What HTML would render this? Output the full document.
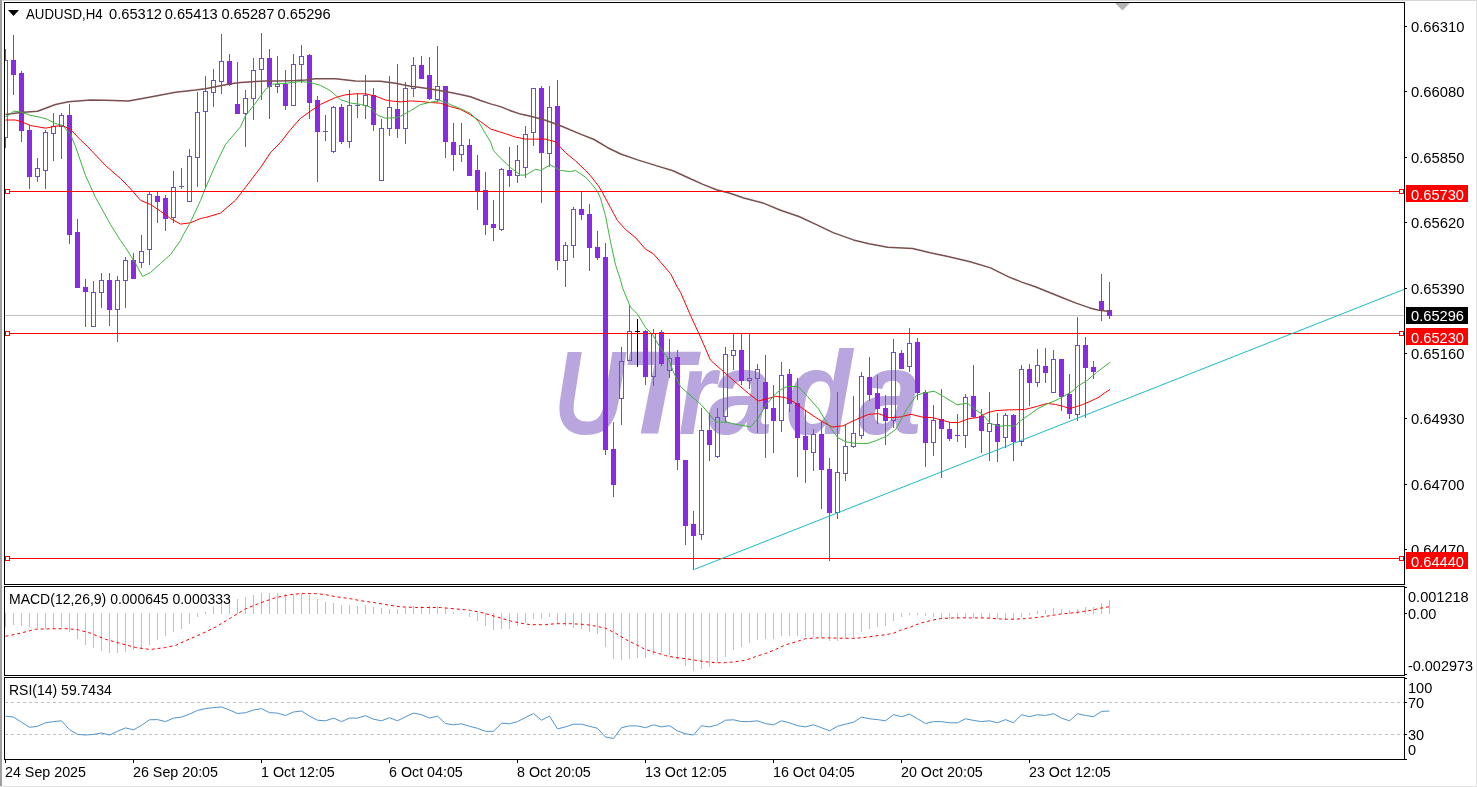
<!DOCTYPE html><html><head><meta charset="utf-8"><title>AUDUSD,H4</title><style>html,body{margin:0;padding:0;background:#fff;overflow:hidden}svg{display:block}text{font-family:'Liberation Sans', Arial, sans-serif;font-size:14px}</style></head><body>
<svg width="1477" height="787" viewBox="0 0 1477 787">
<rect width="1477" height="787" fill="#fff"/>
<rect x="0" y="0" width="2" height="787" fill="#a0a0a0"/>
<rect x="2" y="0" width="1475" height="1" fill="#d6d6d6"/>
<rect x="0" y="786" width="1477" height="1" fill="#e2e2e2"/>
<rect x="1476" y="0" width="1" height="787" fill="#e2e2e2"/>
<defs><clipPath id="cm"><rect x="5" y="3" width="1399" height="581"/></clipPath></defs>
<g clip-path="url(#cm)">
<text y="434" style="font-family:'Liberation Sans',sans-serif;font-style:italic;font-weight:bold;font-size:118px;fill:#b9a6de"><tspan x="553.7" textLength="70.7" lengthAdjust="spacingAndGlyphs">U</tspan><tspan x="619" textLength="73.5" lengthAdjust="spacingAndGlyphs">T</tspan><tspan x="678.4" textLength="37.3" lengthAdjust="spacingAndGlyphs">r</tspan><tspan x="708" textLength="64.5" lengthAdjust="spacingAndGlyphs">a</tspan><tspan x="785.2" textLength="67" lengthAdjust="spacingAndGlyphs">d</tspan><tspan x="858" textLength="63.4" lengthAdjust="spacingAndGlyphs">a</tspan></text>
<rect x="5" y="315" width="1399" height="1" fill="#c0c0c0" shape-rendering="crispEdges"/>
<g shape-rendering="crispEdges">
<rect x="5" y="49" width="1" height="11" fill="#7250b4"/>
<rect x="5" y="138" width="1" height="10" fill="#7250b4"/>
<rect x="3.5" y="60.5" width="4" height="77" fill="none" stroke="#7250b4" stroke-width="1"/>
<rect x="13" y="35" width="1" height="60" fill="#7250b4"/>
<rect x="11" y="60" width="5" height="15" fill="#8a2be2"/>
<rect x="21" y="71" width="1" height="71" fill="#7250b4"/>
<rect x="19" y="73" width="5" height="58" fill="#8a2be2"/>
<rect x="29" y="125" width="1" height="64" fill="#7250b4"/>
<rect x="27" y="130" width="5" height="47" fill="#8a2be2"/>
<rect x="37" y="158" width="1" height="10" fill="#7250b4"/>
<rect x="37" y="177" width="1" height="5" fill="#7250b4"/>
<rect x="35.5" y="168.5" width="4" height="8" fill="none" stroke="#7250b4" stroke-width="1"/>
<rect x="45" y="130" width="1" height="2" fill="#7250b4"/>
<rect x="45" y="171" width="1" height="18" fill="#7250b4"/>
<rect x="43.5" y="132.5" width="4" height="38" fill="none" stroke="#7250b4" stroke-width="1"/>
<rect x="53" y="113" width="1" height="13" fill="#7250b4"/>
<rect x="53" y="134" width="1" height="27" fill="#7250b4"/>
<rect x="51.5" y="126.5" width="4" height="7" fill="none" stroke="#7250b4" stroke-width="1"/>
<rect x="61" y="113" width="1" height="2" fill="#7250b4"/>
<rect x="61" y="127" width="1" height="32" fill="#7250b4"/>
<rect x="59.5" y="115.5" width="4" height="11" fill="none" stroke="#7250b4" stroke-width="1"/>
<rect x="69" y="104" width="1" height="140" fill="#7250b4"/>
<rect x="67" y="115" width="5" height="120" fill="#8a2be2"/>
<rect x="77" y="219" width="1" height="69" fill="#7250b4"/>
<rect x="75" y="232" width="5" height="56" fill="#8a2be2"/>
<rect x="85" y="279" width="1" height="48" fill="#7250b4"/>
<rect x="83" y="287" width="5" height="5" fill="#8a2be2"/>
<rect x="93" y="281" width="1" height="11" fill="#7250b4"/>
<rect x="91.5" y="292.5" width="4" height="34" fill="none" stroke="#7250b4" stroke-width="1"/>
<rect x="101" y="273" width="1" height="7" fill="#7250b4"/>
<rect x="101" y="293" width="1" height="15" fill="#7250b4"/>
<rect x="99.5" y="280.5" width="4" height="12" fill="none" stroke="#7250b4" stroke-width="1"/>
<rect x="109" y="273" width="1" height="53" fill="#7250b4"/>
<rect x="107" y="280" width="5" height="30" fill="#8a2be2"/>
<rect x="117" y="276" width="1" height="4" fill="#7250b4"/>
<rect x="117" y="310" width="1" height="32" fill="#7250b4"/>
<rect x="115.5" y="280.5" width="4" height="29" fill="none" stroke="#7250b4" stroke-width="1"/>
<rect x="125" y="257" width="1" height="3" fill="#7250b4"/>
<rect x="125" y="281" width="1" height="27" fill="#7250b4"/>
<rect x="123.5" y="260.5" width="4" height="20" fill="none" stroke="#7250b4" stroke-width="1"/>
<rect x="133" y="253" width="1" height="26" fill="#7250b4"/>
<rect x="131" y="260" width="5" height="19" fill="#8a2be2"/>
<rect x="141" y="235" width="1" height="16" fill="#7250b4"/>
<rect x="141" y="263" width="1" height="5" fill="#7250b4"/>
<rect x="139.5" y="251.5" width="4" height="11" fill="none" stroke="#7250b4" stroke-width="1"/>
<rect x="149" y="192" width="1" height="2" fill="#7250b4"/>
<rect x="149" y="250" width="1" height="15" fill="#7250b4"/>
<rect x="147.5" y="194.5" width="4" height="55" fill="none" stroke="#7250b4" stroke-width="1"/>
<rect x="157" y="191" width="1" height="32" fill="#7250b4"/>
<rect x="155" y="196" width="5" height="6" fill="#8a2be2"/>
<rect x="165" y="195" width="1" height="36" fill="#7250b4"/>
<rect x="163" y="198" width="5" height="21" fill="#8a2be2"/>
<rect x="173" y="171" width="1" height="16" fill="#7250b4"/>
<rect x="173" y="218" width="1" height="5" fill="#7250b4"/>
<rect x="171.5" y="187.5" width="4" height="30" fill="none" stroke="#7250b4" stroke-width="1"/>
<rect x="181" y="168" width="1" height="18" fill="#7250b4"/>
<rect x="181" y="187" width="1" height="2" fill="#7250b4"/>
<rect x="179" y="186" width="5" height="1" fill="#7250b4"/>
<rect x="189" y="149" width="1" height="7" fill="#7250b4"/>
<rect x="187.5" y="156.5" width="4" height="45" fill="none" stroke="#7250b4" stroke-width="1"/>
<rect x="197" y="92" width="1" height="20" fill="#7250b4"/>
<rect x="197" y="158" width="1" height="29" fill="#7250b4"/>
<rect x="195.5" y="112.5" width="4" height="45" fill="none" stroke="#7250b4" stroke-width="1"/>
<rect x="205" y="76" width="1" height="15" fill="#7250b4"/>
<rect x="205" y="112" width="1" height="76" fill="#7250b4"/>
<rect x="203.5" y="91.5" width="4" height="20" fill="none" stroke="#7250b4" stroke-width="1"/>
<rect x="213" y="69" width="1" height="11" fill="#7250b4"/>
<rect x="213" y="93" width="1" height="14" fill="#7250b4"/>
<rect x="211.5" y="80.5" width="4" height="12" fill="none" stroke="#7250b4" stroke-width="1"/>
<rect x="221" y="34" width="1" height="27" fill="#7250b4"/>
<rect x="221" y="82" width="1" height="12" fill="#7250b4"/>
<rect x="219.5" y="61.5" width="4" height="20" fill="none" stroke="#7250b4" stroke-width="1"/>
<rect x="229" y="54" width="1" height="32" fill="#7250b4"/>
<rect x="227" y="61" width="5" height="24" fill="#8a2be2"/>
<rect x="237" y="62" width="1" height="52" fill="#7250b4"/>
<rect x="235" y="104" width="5" height="10" fill="#8a2be2"/>
<rect x="245" y="90" width="1" height="8" fill="#7250b4"/>
<rect x="245" y="114" width="1" height="33" fill="#7250b4"/>
<rect x="243.5" y="98.5" width="4" height="15" fill="none" stroke="#7250b4" stroke-width="1"/>
<rect x="253" y="58" width="1" height="12" fill="#7250b4"/>
<rect x="253" y="99" width="1" height="21" fill="#7250b4"/>
<rect x="251.5" y="70.5" width="4" height="28" fill="none" stroke="#7250b4" stroke-width="1"/>
<rect x="261" y="33" width="1" height="25" fill="#7250b4"/>
<rect x="261" y="70" width="1" height="30" fill="#7250b4"/>
<rect x="259.5" y="58.5" width="4" height="11" fill="none" stroke="#7250b4" stroke-width="1"/>
<rect x="269" y="49" width="1" height="70" fill="#7250b4"/>
<rect x="267" y="58" width="5" height="29" fill="#8a2be2"/>
<rect x="277" y="56" width="1" height="28" fill="#7250b4"/>
<rect x="277" y="87" width="1" height="6" fill="#7250b4"/>
<rect x="275.5" y="84.5" width="4" height="2" fill="none" stroke="#7250b4" stroke-width="1"/>
<rect x="285" y="70" width="1" height="40" fill="#7250b4"/>
<rect x="283" y="84" width="5" height="22" fill="#8a2be2"/>
<rect x="293" y="54" width="1" height="10" fill="#7250b4"/>
<rect x="291.5" y="64.5" width="4" height="41" fill="none" stroke="#7250b4" stroke-width="1"/>
<rect x="301" y="45" width="1" height="11" fill="#7250b4"/>
<rect x="301" y="65" width="1" height="18" fill="#7250b4"/>
<rect x="299.5" y="56.5" width="4" height="8" fill="none" stroke="#7250b4" stroke-width="1"/>
<rect x="309" y="54" width="1" height="65" fill="#7250b4"/>
<rect x="307" y="55" width="5" height="48" fill="#8a2be2"/>
<rect x="317" y="96" width="1" height="86" fill="#7250b4"/>
<rect x="315" y="100" width="5" height="32" fill="#8a2be2"/>
<rect x="325" y="115" width="1" height="16" fill="#7250b4"/>
<rect x="325" y="132" width="1" height="9" fill="#7250b4"/>
<rect x="323" y="131" width="5" height="1" fill="#7250b4"/>
<rect x="333" y="106" width="1" height="1" fill="#7250b4"/>
<rect x="333" y="152" width="1" height="1" fill="#7250b4"/>
<rect x="331.5" y="107.5" width="4" height="44" fill="none" stroke="#7250b4" stroke-width="1"/>
<rect x="341" y="104" width="1" height="40" fill="#7250b4"/>
<rect x="339" y="107" width="5" height="35" fill="#8a2be2"/>
<rect x="349" y="90" width="1" height="15" fill="#7250b4"/>
<rect x="349" y="142" width="1" height="6" fill="#7250b4"/>
<rect x="347.5" y="105.5" width="4" height="36" fill="none" stroke="#7250b4" stroke-width="1"/>
<rect x="357" y="93" width="1" height="12" fill="#7250b4"/>
<rect x="357" y="106" width="1" height="12" fill="#7250b4"/>
<rect x="355" y="105" width="5" height="1" fill="#7250b4"/>
<rect x="365" y="75" width="1" height="20" fill="#7250b4"/>
<rect x="365" y="106" width="1" height="13" fill="#7250b4"/>
<rect x="363.5" y="95.5" width="4" height="10" fill="none" stroke="#7250b4" stroke-width="1"/>
<rect x="373" y="88" width="1" height="43" fill="#7250b4"/>
<rect x="371" y="95" width="5" height="30" fill="#8a2be2"/>
<rect x="381" y="119" width="1" height="9" fill="#7250b4"/>
<rect x="379.5" y="128.5" width="4" height="52" fill="none" stroke="#7250b4" stroke-width="1"/>
<rect x="389" y="76" width="1" height="31" fill="#7250b4"/>
<rect x="389" y="129" width="1" height="7" fill="#7250b4"/>
<rect x="387.5" y="107.5" width="4" height="21" fill="none" stroke="#7250b4" stroke-width="1"/>
<rect x="397" y="64" width="1" height="74" fill="#7250b4"/>
<rect x="395" y="109" width="5" height="20" fill="#8a2be2"/>
<rect x="405" y="82" width="1" height="6" fill="#7250b4"/>
<rect x="405" y="129" width="1" height="15" fill="#7250b4"/>
<rect x="403.5" y="88.5" width="4" height="40" fill="none" stroke="#7250b4" stroke-width="1"/>
<rect x="413" y="57" width="1" height="8" fill="#7250b4"/>
<rect x="413" y="89" width="1" height="8" fill="#7250b4"/>
<rect x="411.5" y="65.5" width="4" height="23" fill="none" stroke="#7250b4" stroke-width="1"/>
<rect x="421" y="56" width="1" height="23" fill="#7250b4"/>
<rect x="419" y="65" width="5" height="14" fill="#8a2be2"/>
<rect x="429" y="57" width="1" height="43" fill="#7250b4"/>
<rect x="427" y="75" width="5" height="24" fill="#8a2be2"/>
<rect x="437" y="46" width="1" height="40" fill="#7250b4"/>
<rect x="437" y="100" width="1" height="2" fill="#7250b4"/>
<rect x="435.5" y="86.5" width="4" height="13" fill="none" stroke="#7250b4" stroke-width="1"/>
<rect x="445" y="86" width="1" height="72" fill="#7250b4"/>
<rect x="443" y="86" width="5" height="56" fill="#8a2be2"/>
<rect x="453" y="123" width="1" height="48" fill="#7250b4"/>
<rect x="451" y="142" width="5" height="13" fill="#8a2be2"/>
<rect x="461" y="123" width="1" height="22" fill="#7250b4"/>
<rect x="461" y="155" width="1" height="7" fill="#7250b4"/>
<rect x="459.5" y="145.5" width="4" height="9" fill="none" stroke="#7250b4" stroke-width="1"/>
<rect x="469" y="139" width="1" height="37" fill="#7250b4"/>
<rect x="467" y="145" width="5" height="31" fill="#8a2be2"/>
<rect x="477" y="155" width="1" height="55" fill="#7250b4"/>
<rect x="475" y="170" width="5" height="21" fill="#8a2be2"/>
<rect x="485" y="172" width="1" height="63" fill="#7250b4"/>
<rect x="483" y="190" width="5" height="35" fill="#8a2be2"/>
<rect x="493" y="200" width="1" height="41" fill="#7250b4"/>
<rect x="491" y="224" width="5" height="4" fill="#8a2be2"/>
<rect x="501" y="168" width="1" height="1" fill="#7250b4"/>
<rect x="501" y="230" width="1" height="1" fill="#7250b4"/>
<rect x="499.5" y="169.5" width="4" height="60" fill="none" stroke="#7250b4" stroke-width="1"/>
<rect x="509" y="147" width="1" height="40" fill="#7250b4"/>
<rect x="507" y="170" width="5" height="6" fill="#8a2be2"/>
<rect x="517" y="145" width="1" height="15" fill="#7250b4"/>
<rect x="517" y="176" width="1" height="7" fill="#7250b4"/>
<rect x="515.5" y="160.5" width="4" height="15" fill="none" stroke="#7250b4" stroke-width="1"/>
<rect x="525" y="126" width="1" height="8" fill="#7250b4"/>
<rect x="525" y="168" width="1" height="10" fill="#7250b4"/>
<rect x="523.5" y="134.5" width="4" height="33" fill="none" stroke="#7250b4" stroke-width="1"/>
<rect x="533" y="133" width="1" height="13" fill="#7250b4"/>
<rect x="531.5" y="88.5" width="4" height="44" fill="none" stroke="#7250b4" stroke-width="1"/>
<rect x="541" y="86" width="1" height="117" fill="#7250b4"/>
<rect x="539" y="88" width="5" height="65" fill="#8a2be2"/>
<rect x="549" y="86" width="1" height="21" fill="#7250b4"/>
<rect x="549" y="154" width="1" height="13" fill="#7250b4"/>
<rect x="547.5" y="107.5" width="4" height="46" fill="none" stroke="#7250b4" stroke-width="1"/>
<rect x="557" y="80" width="1" height="190" fill="#7250b4"/>
<rect x="555" y="106" width="5" height="155" fill="#8a2be2"/>
<rect x="565" y="242" width="1" height="3" fill="#7250b4"/>
<rect x="565" y="261" width="1" height="26" fill="#7250b4"/>
<rect x="563.5" y="245.5" width="4" height="15" fill="none" stroke="#7250b4" stroke-width="1"/>
<rect x="573" y="207" width="1" height="2" fill="#7250b4"/>
<rect x="573" y="246" width="1" height="12" fill="#7250b4"/>
<rect x="571.5" y="209.5" width="4" height="36" fill="none" stroke="#7250b4" stroke-width="1"/>
<rect x="581" y="192" width="1" height="28" fill="#7250b4"/>
<rect x="579" y="209" width="5" height="6" fill="#8a2be2"/>
<rect x="589" y="204" width="1" height="67" fill="#7250b4"/>
<rect x="587" y="214" width="5" height="34" fill="#8a2be2"/>
<rect x="597" y="231" width="1" height="29" fill="#7250b4"/>
<rect x="595" y="247" width="5" height="11" fill="#8a2be2"/>
<rect x="605" y="243" width="1" height="212" fill="#7250b4"/>
<rect x="603" y="257" width="5" height="193" fill="#8a2be2"/>
<rect x="613" y="422" width="1" height="75" fill="#7250b4"/>
<rect x="611" y="449" width="5" height="36" fill="#8a2be2"/>
<rect x="621" y="347" width="1" height="14" fill="#7250b4"/>
<rect x="621" y="399" width="1" height="26" fill="#7250b4"/>
<rect x="619.5" y="361.5" width="4" height="37" fill="none" stroke="#7250b4" stroke-width="1"/>
<rect x="629" y="306" width="1" height="25" fill="#7250b4"/>
<rect x="627.5" y="331.5" width="4" height="29" fill="none" stroke="#7250b4" stroke-width="1"/>
<rect x="637" y="319" width="1" height="48" fill="#000"/>
<rect x="635" y="331" width="5" height="1" fill="#000"/>
<rect x="645" y="330" width="1" height="55" fill="#7250b4"/>
<rect x="643" y="331" width="5" height="46" fill="#8a2be2"/>
<rect x="653" y="329" width="1" height="4" fill="#7250b4"/>
<rect x="653" y="377" width="1" height="9" fill="#7250b4"/>
<rect x="651.5" y="333.5" width="4" height="43" fill="none" stroke="#7250b4" stroke-width="1"/>
<rect x="661" y="330" width="1" height="36" fill="#7250b4"/>
<rect x="659" y="332" width="5" height="32" fill="#8a2be2"/>
<rect x="669" y="339" width="1" height="19" fill="#7250b4"/>
<rect x="669" y="371" width="1" height="7" fill="#7250b4"/>
<rect x="667.5" y="358.5" width="4" height="12" fill="none" stroke="#7250b4" stroke-width="1"/>
<rect x="677" y="350" width="1" height="120" fill="#7250b4"/>
<rect x="675" y="357" width="5" height="103" fill="#8a2be2"/>
<rect x="685" y="460" width="1" height="85" fill="#7250b4"/>
<rect x="683" y="460" width="5" height="66" fill="#8a2be2"/>
<rect x="693" y="511" width="1" height="59" fill="#7250b4"/>
<rect x="691" y="524" width="5" height="12" fill="#8a2be2"/>
<rect x="701" y="408" width="1" height="22" fill="#7250b4"/>
<rect x="701" y="535" width="1" height="5" fill="#7250b4"/>
<rect x="699.5" y="430.5" width="4" height="104" fill="none" stroke="#7250b4" stroke-width="1"/>
<rect x="709" y="413" width="1" height="48" fill="#7250b4"/>
<rect x="707" y="430" width="5" height="15" fill="#8a2be2"/>
<rect x="717" y="408" width="1" height="9" fill="#7250b4"/>
<rect x="717" y="457" width="1" height="1" fill="#7250b4"/>
<rect x="715.5" y="417.5" width="4" height="39" fill="none" stroke="#7250b4" stroke-width="1"/>
<rect x="725" y="347" width="1" height="7" fill="#7250b4"/>
<rect x="725" y="417" width="1" height="6" fill="#7250b4"/>
<rect x="723.5" y="354.5" width="4" height="62" fill="none" stroke="#7250b4" stroke-width="1"/>
<rect x="733" y="334" width="1" height="16" fill="#7250b4"/>
<rect x="733" y="356" width="1" height="14" fill="#7250b4"/>
<rect x="731.5" y="350.5" width="4" height="5" fill="none" stroke="#7250b4" stroke-width="1"/>
<rect x="741" y="334" width="1" height="51" fill="#7250b4"/>
<rect x="739" y="350" width="5" height="31" fill="#8a2be2"/>
<rect x="749" y="334" width="1" height="44" fill="#7250b4"/>
<rect x="749" y="381" width="1" height="8" fill="#7250b4"/>
<rect x="747.5" y="378.5" width="4" height="2" fill="none" stroke="#7250b4" stroke-width="1"/>
<rect x="757" y="364" width="1" height="5" fill="#7250b4"/>
<rect x="757" y="379" width="1" height="54" fill="#7250b4"/>
<rect x="755.5" y="369.5" width="4" height="9" fill="none" stroke="#7250b4" stroke-width="1"/>
<rect x="765" y="355" width="1" height="103" fill="#7250b4"/>
<rect x="763" y="382" width="5" height="27" fill="#8a2be2"/>
<rect x="773" y="385" width="1" height="68" fill="#7250b4"/>
<rect x="771" y="408" width="5" height="13" fill="#8a2be2"/>
<rect x="781" y="362" width="1" height="13" fill="#7250b4"/>
<rect x="781" y="421" width="1" height="11" fill="#7250b4"/>
<rect x="779.5" y="375.5" width="4" height="45" fill="none" stroke="#7250b4" stroke-width="1"/>
<rect x="789" y="369" width="1" height="43" fill="#7250b4"/>
<rect x="787" y="374" width="5" height="30" fill="#8a2be2"/>
<rect x="797" y="378" width="1" height="99" fill="#7250b4"/>
<rect x="795" y="403" width="5" height="35" fill="#8a2be2"/>
<rect x="805" y="410" width="1" height="73" fill="#7250b4"/>
<rect x="803" y="436" width="5" height="14" fill="#8a2be2"/>
<rect x="813" y="429" width="1" height="5" fill="#7250b4"/>
<rect x="813" y="453" width="1" height="18" fill="#7250b4"/>
<rect x="811.5" y="434.5" width="4" height="18" fill="none" stroke="#7250b4" stroke-width="1"/>
<rect x="821" y="421" width="1" height="88" fill="#7250b4"/>
<rect x="819" y="434" width="5" height="36" fill="#8a2be2"/>
<rect x="829" y="458" width="1" height="103" fill="#7250b4"/>
<rect x="827" y="469" width="5" height="44" fill="#8a2be2"/>
<rect x="837" y="392" width="1" height="80" fill="#7250b4"/>
<rect x="837" y="513" width="1" height="6" fill="#7250b4"/>
<rect x="835.5" y="472.5" width="4" height="40" fill="none" stroke="#7250b4" stroke-width="1"/>
<rect x="845" y="425" width="1" height="21" fill="#7250b4"/>
<rect x="845" y="474" width="1" height="7" fill="#7250b4"/>
<rect x="843.5" y="446.5" width="4" height="27" fill="none" stroke="#7250b4" stroke-width="1"/>
<rect x="853" y="396" width="1" height="37" fill="#7250b4"/>
<rect x="853" y="447" width="1" height="1" fill="#7250b4"/>
<rect x="851.5" y="433.5" width="4" height="13" fill="none" stroke="#7250b4" stroke-width="1"/>
<rect x="861" y="372" width="1" height="4" fill="#7250b4"/>
<rect x="861" y="436" width="1" height="3" fill="#7250b4"/>
<rect x="859.5" y="376.5" width="4" height="59" fill="none" stroke="#7250b4" stroke-width="1"/>
<rect x="869" y="357" width="1" height="44" fill="#7250b4"/>
<rect x="867" y="377" width="5" height="18" fill="#8a2be2"/>
<rect x="877" y="375" width="1" height="49" fill="#7250b4"/>
<rect x="875" y="393" width="5" height="16" fill="#8a2be2"/>
<rect x="885" y="395" width="1" height="50" fill="#7250b4"/>
<rect x="883" y="408" width="5" height="13" fill="#8a2be2"/>
<rect x="893" y="339" width="1" height="13" fill="#7250b4"/>
<rect x="893" y="421" width="1" height="7" fill="#7250b4"/>
<rect x="891.5" y="352.5" width="4" height="68" fill="none" stroke="#7250b4" stroke-width="1"/>
<rect x="901" y="350" width="1" height="19" fill="#7250b4"/>
<rect x="899" y="353" width="5" height="16" fill="#8a2be2"/>
<rect x="909" y="328" width="1" height="15" fill="#7250b4"/>
<rect x="909" y="367" width="1" height="5" fill="#7250b4"/>
<rect x="907.5" y="343.5" width="4" height="23" fill="none" stroke="#7250b4" stroke-width="1"/>
<rect x="917" y="338" width="1" height="62" fill="#7250b4"/>
<rect x="915" y="342" width="5" height="51" fill="#8a2be2"/>
<rect x="925" y="390" width="1" height="77" fill="#7250b4"/>
<rect x="923" y="392" width="5" height="51" fill="#8a2be2"/>
<rect x="933" y="405" width="1" height="15" fill="#7250b4"/>
<rect x="933" y="443" width="1" height="13" fill="#7250b4"/>
<rect x="931.5" y="420.5" width="4" height="22" fill="none" stroke="#7250b4" stroke-width="1"/>
<rect x="941" y="389" width="1" height="89" fill="#7250b4"/>
<rect x="939" y="419" width="5" height="10" fill="#8a2be2"/>
<rect x="949" y="422" width="1" height="19" fill="#7250b4"/>
<rect x="947" y="429" width="5" height="10" fill="#8a2be2"/>
<rect x="957" y="414" width="1" height="28" fill="#7250b4"/>
<rect x="955" y="435" width="5" height="1" fill="#8a2be2"/>
<rect x="965" y="394" width="1" height="3" fill="#7250b4"/>
<rect x="965" y="436" width="1" height="12" fill="#7250b4"/>
<rect x="963.5" y="397.5" width="4" height="38" fill="none" stroke="#7250b4" stroke-width="1"/>
<rect x="973" y="365" width="1" height="53" fill="#7250b4"/>
<rect x="971" y="396" width="5" height="21" fill="#8a2be2"/>
<rect x="981" y="409" width="1" height="44" fill="#7250b4"/>
<rect x="979" y="416" width="5" height="15" fill="#8a2be2"/>
<rect x="989" y="392" width="1" height="31" fill="#7250b4"/>
<rect x="989" y="432" width="1" height="29" fill="#7250b4"/>
<rect x="987.5" y="423.5" width="4" height="8" fill="none" stroke="#7250b4" stroke-width="1"/>
<rect x="997" y="413" width="1" height="49" fill="#7250b4"/>
<rect x="995" y="424" width="5" height="18" fill="#8a2be2"/>
<rect x="1005" y="413" width="1" height="2" fill="#7250b4"/>
<rect x="1005" y="438" width="1" height="10" fill="#7250b4"/>
<rect x="1003.5" y="415.5" width="4" height="22" fill="none" stroke="#7250b4" stroke-width="1"/>
<rect x="1013" y="414" width="1" height="47" fill="#7250b4"/>
<rect x="1011" y="415" width="5" height="27" fill="#8a2be2"/>
<rect x="1021" y="365" width="1" height="4" fill="#7250b4"/>
<rect x="1021" y="442" width="1" height="4" fill="#7250b4"/>
<rect x="1019.5" y="369.5" width="4" height="72" fill="none" stroke="#7250b4" stroke-width="1"/>
<rect x="1029" y="364" width="1" height="42" fill="#7250b4"/>
<rect x="1027" y="369" width="5" height="14" fill="#8a2be2"/>
<rect x="1037" y="349" width="1" height="16" fill="#7250b4"/>
<rect x="1037" y="383" width="1" height="4" fill="#7250b4"/>
<rect x="1035.5" y="365.5" width="4" height="17" fill="none" stroke="#7250b4" stroke-width="1"/>
<rect x="1045" y="348" width="1" height="35" fill="#7250b4"/>
<rect x="1043" y="366" width="5" height="7" fill="#8a2be2"/>
<rect x="1053" y="350" width="1" height="9" fill="#7250b4"/>
<rect x="1051.5" y="359.5" width="4" height="33" fill="none" stroke="#7250b4" stroke-width="1"/>
<rect x="1061" y="359" width="1" height="52" fill="#7250b4"/>
<rect x="1059" y="359" width="5" height="38" fill="#8a2be2"/>
<rect x="1069" y="374" width="1" height="45" fill="#7250b4"/>
<rect x="1067" y="394" width="5" height="20" fill="#8a2be2"/>
<rect x="1077" y="317" width="1" height="28" fill="#7250b4"/>
<rect x="1077" y="415" width="1" height="6" fill="#7250b4"/>
<rect x="1075.5" y="345.5" width="4" height="69" fill="none" stroke="#7250b4" stroke-width="1"/>
<rect x="1085" y="337" width="1" height="81" fill="#7250b4"/>
<rect x="1083" y="345" width="5" height="23" fill="#8a2be2"/>
<rect x="1093" y="361" width="1" height="18" fill="#7250b4"/>
<rect x="1091" y="367" width="5" height="5" fill="#8a2be2"/>
<rect x="1101" y="274" width="1" height="47" fill="#7250b4"/>
<rect x="1099" y="301" width="5" height="10" fill="#8a2be2"/>
<rect x="1109" y="282" width="1" height="37" fill="#7250b4"/>
<rect x="1107" y="310" width="5" height="6" fill="#8a2be2"/>
</g>
<polyline fill="none" stroke="#7a4e4e" stroke-width="1.5" stroke-linejoin="round" points="5.5,114.5 20.5,112.5 37.5,111.2 55.5,104.5 68.5,101.7 90.5,100 105.5,100.3 128.5,101 150.5,96.9 175.5,92.2 195.5,90.1 205.5,88.7 215.5,86.7 230.5,83.7 240.5,82.6 255.5,81.5 265.5,81 280.5,81 295.5,80.5 305.5,79.9 315.5,78.8 335.5,78.8 355.5,81 380.5,81.2 395.5,83.3 400.5,84.2 410.5,86.2 420.5,87.6 430.5,89 445.5,91.4 460.5,94.4 470.5,96.8 480.5,100.5 490.5,103.9 500.5,106.6 510.5,110.7 520.5,114.1 530.5,116.2 545.5,120.2 560.5,125.7 580.5,134.1 594.1,139.5 607.7,147.7 621.3,154.2 637.6,159.9 655.3,165.4 673,170.8 689.3,178.3 702.9,184.4 716.5,189.8 730.1,193.2 743.7,198 764,203.4 780.5,210.2 798.9,216.5 817.5,225.1 833.1,232.6 853.4,239.9 869,243.8 887.6,247.2 912.6,248.5 931.3,253.1 946.8,256.2 970.2,261.7 990.5,267.9 1008.1,276.6 1021.7,282.1 1035.3,286.8 1048.9,292.3 1062.5,297.7 1076.1,303.1 1089.7,307.9 1097.8,309.9 1109.5,311.5"/>
<polyline fill="none" stroke="#ff0000" stroke-width="1" stroke-linejoin="round" points="5.5,120 15.5,120 21.5,121.8 30.5,125.5 45.5,128.2 55.5,126.2 62.5,125.5 70.5,129.5 80.5,139.8 87.5,146.5 105.5,165.5 120.5,178.5 127.5,185.5 133.5,192.2 140.5,200.3 150.5,204.5 160.5,211.2 170.5,218.5 180.5,224.1 190.5,222.8 200.5,218.5 205.5,217.5 220.5,213.1 235.5,200.2 245.5,187.3 260.5,167.6 270.5,152.6 280.5,142.5 290.5,129.5 300.5,118.3 310.5,111.2 320.5,104.4 335.5,97.5 345.5,94.8 355.5,93.8 365.5,93.8 375.5,96.2 385.5,100 390.5,100.9 400.5,101.9 410.5,100.9 420.5,101.5 430.5,102.5 440.5,103.2 450.5,106.6 460.5,109.4 470.5,114.8 480.5,121.6 490.5,129 505.5,133.7 515.5,137.1 525.5,139.1 535.5,139.1 545.5,139.1 555.5,141.8 565.5,152.7 575.5,160.9 585.5,170.4 590.5,175.8 598.5,185.9 602.5,192.7 610.5,207.7 617.5,220.6 625.5,229.5 635.5,237.6 645.5,249.2 653.5,253.9 660.5,262.1 670.5,273.6 677.5,287.5 680.5,292.3 690.5,315.4 700.5,337.1 710.5,360.2 720.5,369 728.3,375.9 739.1,385.4 748.7,393.6 758.2,401 766.3,399 775.8,396.3 785.5,397.6 794.1,402.1 805,410.2 821.3,421.1 832.2,427 843,425.9 855.3,419.8 868.9,414.3 878.4,413.6 889.3,417.7 900.1,417 911,414.3 921.9,417 932.8,417.7 950.5,422.5 958.6,422.5 968.7,418.7 978.2,417.4 987.7,412.6 995.8,410.6 1008.1,409.9 1024.4,409.6 1036.6,406.5 1047.5,403.4 1055.7,404.5 1063.8,406.5 1069.3,408.5 1074.7,407.2 1082.9,404.5 1091,401 1099.2,397 1104.6,392.9 1110.1,389.5"/>
<polyline fill="none" stroke="#3cb43c" stroke-width="1" stroke-linejoin="round" points="5.5,116.5 8.5,115.3 13.5,111.2 20.5,111.9 30.5,115.3 40.5,117.3 47.5,119.4 55.5,123.5 62.5,125.5 70.5,134.3 75.5,146.5 85.5,175.5 95.5,197.5 110.5,224.5 120.5,240.5 125.5,247.5 135.5,263.5 142.5,276.5 150.5,272.5 160.5,263.5 170.5,254.5 180.5,240.5 183.5,234.3 190.5,222.1 200.5,200.5 205.5,188 215.5,164.9 225.5,144.5 240.5,126.8 245.5,115.9 255.5,103 265.5,89.4 272.5,84.2 285.5,83.3 300.5,81.5 310.5,82.6 320.5,85.3 330.5,90.8 340.5,99.6 350.5,103 360.5,104.4 370.5,107.1 377.5,115.2 385.5,118.2 395.5,117.8 400.5,116.2 410.5,110.7 420.5,104.6 430.5,102.3 440.5,100.5 450.5,104.6 460.5,108.7 470.5,113.5 478.5,121.6 485.5,133.8 490.5,141.8 493.5,150.7 500.5,158.1 510.5,167.6 520.5,175.1 525.5,175.1 535.5,169.3 540.5,170.4 550.5,164.9 560.5,170.4 570.5,171.7 575.5,170.4 585.5,177.2 590.5,182.6 597.5,191.4 600.5,198.2 605.5,215.8 610.5,241.7 615.5,264.8 620.5,279.8 622.5,287.8 630.5,307.2 637.5,314 645.5,327.6 652.5,334.4 660.5,348 668.5,358.9 673.9,373.2 680.7,386.8 692.9,397.6 701.1,404.5 709.2,414 716,422.1 726.9,422.1 735.1,424.2 750.7,426.9 758.2,418 766.3,404.5 775.8,393.6 780.5,389.8 787.3,386.5 798.2,386.5 807.7,396.6 818.5,408.9 825.4,420.5 837.6,437.5 845.8,441.9 855.3,443.3 867.5,443.5 875.7,440.8 886.5,436.1 896.1,429 906.9,408.9 916.5,395.3 923.3,393.2 934.1,391.2 943.7,396.6 957.2,404.8 967.3,403.1 975.5,409.9 982.3,414 990.4,423.5 999.9,426.2 1006.7,425.5 1014.9,426.2 1020.3,420.8 1028.5,415.3 1038,408.5 1047.5,403.8 1055.7,400.4 1063.8,396.3 1072,391.5 1078.8,385.4 1086.9,380.7 1096.5,372.5 1110.1,362.3"/>
<g shape-rendering="crispEdges">
<rect x="5" y="191" width="1399" height="1" fill="#ff0000"/>
<rect x="5" y="333" width="1399" height="1" fill="#ff0000"/>
<rect x="5" y="558" width="1399" height="1" fill="#ff0000"/>
</g>
<line x1="694.5" y1="569.3" x2="1404" y2="289.4" stroke="#18bcc6" stroke-width="1"/>
</g>
<g shape-rendering="crispEdges" fill="#fff" stroke="#ff0000" stroke-width="1">
<rect x="5.5" y="189.5" width="4" height="4"/>
<rect x="1399.5" y="189.5" width="4" height="4"/>
<rect x="5.5" y="331.5" width="4" height="4"/>
<rect x="1399.5" y="331.5" width="4" height="4"/>
<rect x="5.5" y="556.5" width="4" height="4"/>
<rect x="1399.5" y="556.5" width="4" height="4"/>
</g>
<polygon points="1115,3 1130,3 1122.5,10.5" fill="#b4b4b4"/>
<g shape-rendering="crispEdges" fill="none" stroke="#000" stroke-width="1">
<rect x="4.5" y="2.5" width="1400" height="582"/>
<rect x="4.5" y="586.5" width="1400" height="89"/>
<rect x="4.5" y="677.5" width="1400" height="82"/>
</g>
<g shape-rendering="crispEdges" fill="#000">
<rect x="1405" y="26" width="2" height="1"/>
<rect x="1405" y="91" width="2" height="1"/>
<rect x="1405" y="157" width="2" height="1"/>
<rect x="1405" y="222" width="2" height="1"/>
<rect x="1405" y="288" width="2" height="1"/>
<rect x="1405" y="353" width="2" height="1"/>
<rect x="1405" y="418" width="2" height="1"/>
<rect x="1405" y="484" width="2" height="1"/>
<rect x="1405" y="549" width="2" height="1"/>
<rect x="1405" y="613" width="2" height="1"/>
<rect x="1405" y="587" width="2" height="1"/>
<rect x="1405" y="674" width="2" height="1"/>
<rect x="1405" y="678" width="2" height="1"/>
<rect x="1405" y="702" width="2" height="1"/>
<rect x="1405" y="734" width="2" height="1"/>
<rect x="1405" y="759" width="2" height="1"/>
</g>
<text x="1411" y="32" fill="#000" textLength="53.5" lengthAdjust="spacingAndGlyphs">0.66310</text>
<text x="1411" y="97" fill="#000" textLength="53.5" lengthAdjust="spacingAndGlyphs">0.66080</text>
<text x="1411" y="163" fill="#000" textLength="53.5" lengthAdjust="spacingAndGlyphs">0.65850</text>
<text x="1411" y="228" fill="#000" textLength="53.5" lengthAdjust="spacingAndGlyphs">0.65620</text>
<text x="1411" y="294" fill="#000" textLength="53.5" lengthAdjust="spacingAndGlyphs">0.65390</text>
<text x="1411" y="359" fill="#000" textLength="53.5" lengthAdjust="spacingAndGlyphs">0.65160</text>
<text x="1411" y="424" fill="#000" textLength="53.5" lengthAdjust="spacingAndGlyphs">0.64930</text>
<text x="1411" y="490" fill="#000" textLength="53.5" lengthAdjust="spacingAndGlyphs">0.64700</text>
<text x="1411" y="555" fill="#000" textLength="53.5" lengthAdjust="spacingAndGlyphs">0.64470</text>
<rect x="1406" y="185" width="62" height="17" fill="#ff0000" shape-rendering="crispEdges"/>
<text x="1411" y="200" fill="#fff" textLength="53" lengthAdjust="spacingAndGlyphs">0.65730</text>
<rect x="1406" y="307" width="62" height="17" fill="#000" shape-rendering="crispEdges"/>
<text x="1411" y="321" fill="#fff" textLength="53" lengthAdjust="spacingAndGlyphs">0.65296</text>
<rect x="1406" y="328" width="62" height="17" fill="#ff0000" shape-rendering="crispEdges"/>
<text x="1411" y="343" fill="#fff" textLength="53" lengthAdjust="spacingAndGlyphs">0.65230</text>
<rect x="1406" y="552" width="62" height="17" fill="#ff0000" shape-rendering="crispEdges"/>
<text x="1411" y="567" fill="#fff" textLength="53" lengthAdjust="spacingAndGlyphs">0.64440</text>
<polygon points="8,10 19,10 13.5,16" fill="#000"/>
<text y="19" fill="#000" style="white-space:pre"><tspan x="26" textLength="76.6" lengthAdjust="spacingAndGlyphs">AUDUSD,H4</tspan>  <tspan x="109" textLength="53" lengthAdjust="spacingAndGlyphs">0.65312</tspan> <tspan x="164.7" textLength="53" lengthAdjust="spacingAndGlyphs">0.65413</tspan> <tspan x="221.4" textLength="53" lengthAdjust="spacingAndGlyphs">0.65287</tspan> <tspan x="277.6" textLength="53" lengthAdjust="spacingAndGlyphs">0.65296</tspan></text>
<g shape-rendering="crispEdges" fill="#c0c0c0">
<rect x="5" y="613" width="1" height="14"/>
<rect x="13" y="613" width="1" height="12"/>
<rect x="21" y="613" width="1" height="13"/>
<rect x="29" y="613" width="1" height="14"/>
<rect x="37" y="613" width="1" height="15"/>
<rect x="45" y="613" width="1" height="16"/>
<rect x="53" y="613" width="1" height="16"/>
<rect x="61" y="613" width="1" height="14"/>
<rect x="69" y="613" width="1" height="19"/>
<rect x="77" y="613" width="1" height="26"/>
<rect x="85" y="613" width="1" height="32"/>
<rect x="93" y="613" width="1" height="35"/>
<rect x="101" y="613" width="1" height="38"/>
<rect x="109" y="613" width="1" height="40"/>
<rect x="117" y="613" width="1" height="40"/>
<rect x="125" y="613" width="1" height="39"/>
<rect x="133" y="613" width="1" height="37"/>
<rect x="141" y="613" width="1" height="36"/>
<rect x="149" y="613" width="1" height="32"/>
<rect x="157" y="613" width="1" height="27"/>
<rect x="165" y="613" width="1" height="23"/>
<rect x="173" y="613" width="1" height="19"/>
<rect x="181" y="613" width="1" height="16"/>
<rect x="189" y="613" width="1" height="11"/>
<rect x="197" y="613" width="1" height="4"/>
<rect x="205" y="612" width="1" height="2"/>
<rect x="213" y="606" width="1" height="8"/>
<rect x="221" y="603" width="1" height="11"/>
<rect x="229" y="601" width="1" height="13"/>
<rect x="237" y="599" width="1" height="15"/>
<rect x="245" y="597" width="1" height="17"/>
<rect x="253" y="595" width="1" height="19"/>
<rect x="261" y="593" width="1" height="21"/>
<rect x="269" y="593" width="1" height="21"/>
<rect x="277" y="593" width="1" height="21"/>
<rect x="285" y="594" width="1" height="20"/>
<rect x="293" y="594" width="1" height="20"/>
<rect x="301" y="594" width="1" height="20"/>
<rect x="309" y="595" width="1" height="19"/>
<rect x="317" y="599" width="1" height="15"/>
<rect x="325" y="602" width="1" height="12"/>
<rect x="333" y="603" width="1" height="11"/>
<rect x="341" y="605" width="1" height="9"/>
<rect x="349" y="605" width="1" height="9"/>
<rect x="357" y="606" width="1" height="8"/>
<rect x="365" y="605" width="1" height="9"/>
<rect x="373" y="607" width="1" height="7"/>
<rect x="381" y="608" width="1" height="6"/>
<rect x="389" y="609" width="1" height="5"/>
<rect x="397" y="609" width="1" height="5"/>
<rect x="405" y="608" width="1" height="6"/>
<rect x="413" y="606" width="1" height="8"/>
<rect x="421" y="606" width="1" height="8"/>
<rect x="429" y="606" width="1" height="8"/>
<rect x="437" y="606" width="1" height="8"/>
<rect x="445" y="608" width="1" height="6"/>
<rect x="453" y="612" width="1" height="2"/>
<rect x="461" y="613" width="1" height="1"/>
<rect x="469" y="613" width="1" height="4"/>
<rect x="477" y="613" width="1" height="8"/>
<rect x="485" y="613" width="1" height="13"/>
<rect x="493" y="613" width="1" height="17"/>
<rect x="501" y="613" width="1" height="16"/>
<rect x="509" y="613" width="1" height="16"/>
<rect x="517" y="613" width="1" height="13"/>
<rect x="525" y="613" width="1" height="10"/>
<rect x="533" y="613" width="1" height="6"/>
<rect x="541" y="613" width="1" height="6"/>
<rect x="549" y="613" width="1" height="4"/>
<rect x="557" y="613" width="1" height="10"/>
<rect x="565" y="613" width="1" height="13"/>
<rect x="573" y="613" width="1" height="15"/>
<rect x="581" y="613" width="1" height="16"/>
<rect x="589" y="613" width="1" height="19"/>
<rect x="597" y="613" width="1" height="21"/>
<rect x="605" y="613" width="1" height="34"/>
<rect x="613" y="613" width="1" height="46"/>
<rect x="621" y="613" width="1" height="47"/>
<rect x="629" y="613" width="1" height="46"/>
<rect x="637" y="613" width="1" height="45"/>
<rect x="645" y="613" width="1" height="45"/>
<rect x="653" y="613" width="1" height="42"/>
<rect x="661" y="613" width="1" height="40"/>
<rect x="669" y="613" width="1" height="42"/>
<rect x="677" y="613" width="1" height="46"/>
<rect x="685" y="613" width="1" height="53"/>
<rect x="693" y="613" width="1" height="58"/>
<rect x="701" y="613" width="1" height="56"/>
<rect x="709" y="613" width="1" height="54"/>
<rect x="717" y="613" width="1" height="49"/>
<rect x="725" y="613" width="1" height="44"/>
<rect x="733" y="613" width="1" height="37"/>
<rect x="741" y="613" width="1" height="34"/>
<rect x="749" y="613" width="1" height="30"/>
<rect x="757" y="613" width="1" height="27"/>
<rect x="765" y="613" width="1" height="26"/>
<rect x="773" y="613" width="1" height="26"/>
<rect x="781" y="613" width="1" height="23"/>
<rect x="789" y="613" width="1" height="23"/>
<rect x="797" y="613" width="1" height="23"/>
<rect x="805" y="613" width="1" height="24"/>
<rect x="813" y="613" width="1" height="24"/>
<rect x="821" y="613" width="1" height="25"/>
<rect x="829" y="613" width="1" height="28"/>
<rect x="837" y="613" width="1" height="28"/>
<rect x="845" y="613" width="1" height="25"/>
<rect x="853" y="613" width="1" height="24"/>
<rect x="861" y="613" width="1" height="19"/>
<rect x="869" y="613" width="1" height="16"/>
<rect x="877" y="613" width="1" height="14"/>
<rect x="885" y="613" width="1" height="13"/>
<rect x="893" y="613" width="1" height="8"/>
<rect x="901" y="613" width="1" height="4"/>
<rect x="909" y="613" width="1" height="2"/>
<rect x="917" y="613" width="1" height="2"/>
<rect x="925" y="613" width="1" height="3"/>
<rect x="933" y="613" width="1" height="4"/>
<rect x="941" y="613" width="1" height="6"/>
<rect x="949" y="613" width="1" height="6"/>
<rect x="957" y="613" width="1" height="6"/>
<rect x="965" y="613" width="1" height="5"/>
<rect x="973" y="613" width="1" height="5"/>
<rect x="981" y="613" width="1" height="5"/>
<rect x="989" y="613" width="1" height="6"/>
<rect x="997" y="613" width="1" height="6"/>
<rect x="1005" y="613" width="1" height="7"/>
<rect x="1013" y="613" width="1" height="7"/>
<rect x="1021" y="613" width="1" height="4"/>
<rect x="1029" y="613" width="1" height="2"/>
<rect x="1037" y="611" width="1" height="3"/>
<rect x="1045" y="610" width="1" height="4"/>
<rect x="1053" y="608" width="1" height="6"/>
<rect x="1061" y="609" width="1" height="5"/>
<rect x="1069" y="610" width="1" height="4"/>
<rect x="1077" y="609" width="1" height="5"/>
<rect x="1085" y="607" width="1" height="7"/>
<rect x="1093" y="607" width="1" height="7"/>
<rect x="1101" y="603" width="1" height="11"/>
<rect x="1109" y="600" width="1" height="14"/>
</g>
<polyline fill="none" stroke="#ff0000" stroke-width="1" stroke-dasharray="3,3" points="5.5,636.3 20.5,633.2 35.5,629.2 50.5,628.8 65.5,628.6 78.5,629.8 90.5,633.2 105.5,639.3 120.5,643.4 135.5,647.5 150.5,649.5 165.5,647.5 175.5,645.4 185.5,640.8 200.5,634.3 215.5,627.1 230.5,618 245.5,608.9 260.5,602.8 275.5,597.7 290.5,594.6 300.5,593.6 315.5,593.6 325.5,594.6 335.5,596.7 350.5,598.7 360.5,600.7 375.5,602.8 390.5,605.4 400.5,606.8 415.5,607.5 440.5,607.5 455.5,608.9 470.5,610.3 480.5,612.3 490.5,615 500.5,618 510.5,621 520.5,623.1 530.5,624.7 545.5,624.7 555.5,623.7 570.5,623.7 585.5,624.5 595.5,626.1 605.5,628.2 615.5,633.2 625.5,639.3 635.5,644.4 645.5,649.5 655.5,652.5 665.5,655.6 675.5,657.6 685.5,658.6 695.5,660.3 705.5,661.7 715.5,662.7 725.5,662.7 735.5,661.7 745.5,660.3 755.5,656.6 765.5,653.5 775.5,649.5 785.5,644.8 795.5,642 805.5,638.7 815.5,637.9 830.5,637.9 845.5,638.3 855.5,638.3 865.5,637.3 875.5,635.9 885.5,634.7 893.5,633.2 900.5,630.2 910.5,627.1 920.5,623.1 930.5,620.6 940.5,618.5 955.5,617.9 970.5,617.9 985.5,617.9 1000.5,619 1010.5,619.3 1025.5,618.6 1035.5,617.6 1045.5,616.4 1060.5,614.1 1075.5,612.6 1090.5,610.4 1100.5,608.2 1109.5,606.7"/>
<text x="9" y="604" fill="#000">MACD(12,26,9) 0.000645 0.000333</text>
<text x="1408" y="602" fill="#000" textLength="60.7" lengthAdjust="spacingAndGlyphs">0.001218</text>
<text x="1408" y="619" fill="#000" textLength="28.3" lengthAdjust="spacingAndGlyphs">0.00</text>
<text x="1408" y="671" fill="#000" textLength="65" lengthAdjust="spacingAndGlyphs">-0.002973</text>
<g stroke="#c0c0c0" stroke-width="1" stroke-dasharray="3,3" shape-rendering="crispEdges">
<line x1="5" y1="702.5" x2="1404" y2="702.5"/>
<line x1="5" y1="734.5" x2="1404" y2="734.5"/>
</g>
<polyline fill="none" stroke="#4f94cd" stroke-width="1" points="5.5,716.1 13.5,717.1 21.5,722.2 29.5,727.3 37.5,726.3 45.5,722.8 53.5,721.6 61.5,720.8 69.5,729.7 77.5,734.4 85.5,735 93.5,734.4 101.5,733 109.5,735 117.5,731.3 125.5,727.9 133.5,729.9 141.5,725.3 149.5,719.8 157.5,719.6 165.5,721.6 173.5,718.1 181.5,717.1 189.5,714.1 197.5,710.4 205.5,708.6 213.5,707.6 221.5,707 229.5,710 237.5,713.5 245.5,712.7 253.5,710 261.5,708.6 269.5,712.7 277.5,713.1 285.5,715.5 293.5,712 301.5,711 309.5,716.1 317.5,720.2 325.5,720.8 333.5,718.1 341.5,721.6 349.5,718.1 357.5,718.1 365.5,715.7 373.5,719.2 381.5,720.8 389.5,717.7 397.5,720.8 405.5,716.7 413.5,713.1 421.5,714.7 429.5,718.1 437.5,716.1 445.5,723.6 453.5,724.8 461.5,723.8 469.5,726.3 477.5,728.3 485.5,731.3 493.5,731.3 501.5,723.2 509.5,723.8 517.5,721.6 525.5,717.5 533.5,713.5 541.5,720.2 549.5,716.1 557.5,728.9 565.5,726.9 573.5,724.2 581.5,724.2 589.5,726.3 597.5,728.3 605.5,737 613.5,738.5 621.5,727.7 629.5,725.9 637.5,725.9 645.5,727.7 653.5,724.8 661.5,726.9 669.5,725.7 677.5,730.9 685.5,733.8 693.5,735 701.5,725.7 709.5,726.9 717.5,724.8 725.5,720.2 733.5,719.8 741.5,721.6 749.5,721.6 757.5,720.8 765.5,723.6 773.5,724.8 781.5,720.8 789.5,722.8 797.5,725.7 805.5,726.9 813.5,724.8 821.5,727.7 829.5,730.9 837.5,726.3 845.5,724.2 853.5,722.2 861.5,717.1 869.5,718.8 877.5,719.6 885.5,720.8 893.5,714.7 901.5,716.7 909.5,714.1 917.5,718.8 925.5,723.6 933.5,721.6 941.5,721.6 949.5,722.8 957.5,722.8 965.5,718.8 973.5,720.4 981.5,721.6 989.5,720.8 997.5,722.8 1005.5,719.6 1013.5,722.8 1021.5,714.7 1029.5,716.7 1037.5,714.7 1045.5,715.5 1053.5,713.7 1061.5,718.1 1069.5,720.8 1077.5,713.7 1085.5,715.5 1093.5,716.7 1101.5,711.4 1109.5,711"/>
<text x="9" y="695" fill="#000">RSI(14) 59.7434</text>
<text x="1408" y="693" fill="#000" textLength="24.3" lengthAdjust="spacingAndGlyphs">100</text>
<text x="1408" y="708" fill="#000" textLength="16.2" lengthAdjust="spacingAndGlyphs">70</text>
<text x="1408" y="740" fill="#000" textLength="16.2" lengthAdjust="spacingAndGlyphs">30</text>
<text x="1408" y="755" fill="#000" textLength="8.1" lengthAdjust="spacingAndGlyphs">0</text>
<g shape-rendering="crispEdges" fill="#000">
<rect x="5" y="760" width="1" height="3"/>
<rect x="133" y="760" width="1" height="3"/>
<rect x="261" y="760" width="1" height="3"/>
<rect x="389" y="760" width="1" height="3"/>
<rect x="517" y="760" width="1" height="3"/>
<rect x="645" y="760" width="1" height="3"/>
<rect x="773" y="760" width="1" height="3"/>
<rect x="901" y="760" width="1" height="3"/>
<rect x="1029" y="760" width="1" height="3"/>
</g>
<text x="5" y="777" fill="#000" textLength="81.0" lengthAdjust="spacingAndGlyphs">24 Sep 2025</text>
<text x="133" y="777" fill="#000" textLength="85.0" lengthAdjust="spacingAndGlyphs">26 Sep 20:05</text>
<text x="261" y="777" fill="#000" textLength="73.8" lengthAdjust="spacingAndGlyphs">1 Oct 12:05</text>
<text x="389" y="777" fill="#000" textLength="73.8" lengthAdjust="spacingAndGlyphs">6 Oct 04:05</text>
<text x="517" y="777" fill="#000" textLength="73.8" lengthAdjust="spacingAndGlyphs">8 Oct 20:05</text>
<text x="645" y="777" fill="#000" textLength="81.8" lengthAdjust="spacingAndGlyphs">13 Oct 12:05</text>
<text x="773" y="777" fill="#000" textLength="81.8" lengthAdjust="spacingAndGlyphs">16 Oct 04:05</text>
<text x="901" y="777" fill="#000" textLength="81.8" lengthAdjust="spacingAndGlyphs">20 Oct 20:05</text>
<text x="1029" y="777" fill="#000" textLength="81.8" lengthAdjust="spacingAndGlyphs">23 Oct 12:05</text>
</svg></body></html>
